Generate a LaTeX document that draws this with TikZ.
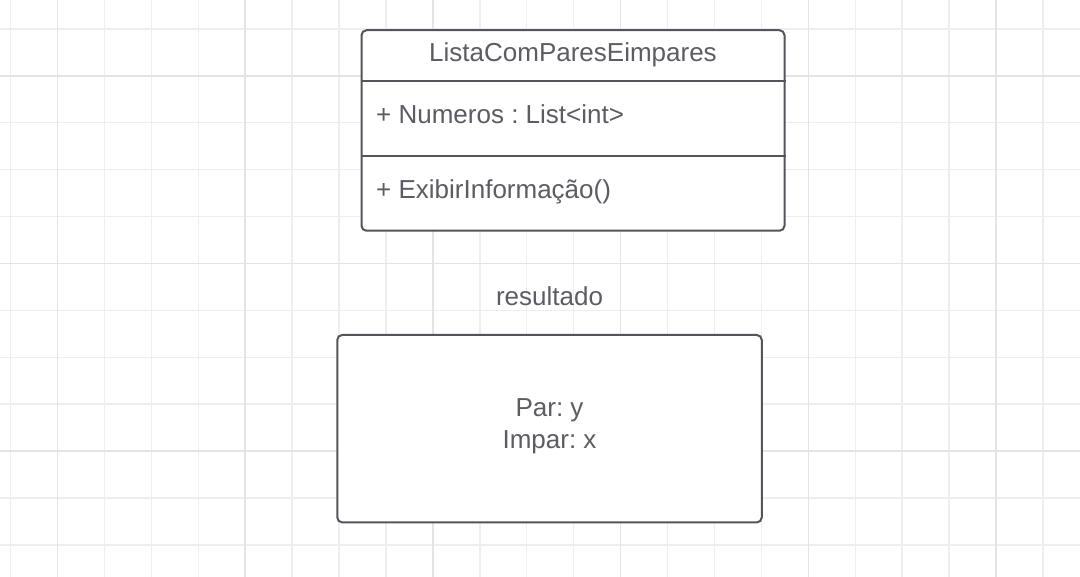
\documentclass[tikz,border=0pt]{standalone}
\usepackage{fontspec}
\setmainfont{Liberation Sans}
\usepackage{tikz}
\definecolor{gridminor}{RGB}{238,238,238}
\definecolor{gridmajor}{RGB}{228,228,228}
\definecolor{umlline}{RGB}{84,84,92}
\definecolor{umltext}{RGB}{92,92,100}
\frenchspacing

\begin{document}
\begin{tikzpicture}[x=1pt,y=-1pt,
	umlbox/.style={draw=umlline,line width=2pt,rounded corners=5pt,fill=white,inner sep=0pt},
	umllabel/.style={text=umltext,inner sep=0pt,font=\fontsize{26}{31}\selectfont},
	]
		\useasboundingbox[fill=white] (0,0) rectangle (1080,577);
		% grid
		\foreach \i in {0,...,22}
			\draw[gridminor,line width=1.4pt] (10.5+46.93*\i,0) -- (10.5+46.93*\i,577);
		\foreach \j in {0,...,11}
			\draw[gridminor,line width=1.4pt] (0,29+46.9*\j) -- (1080,29+46.9*\j);
		\foreach \i in {1,5,9,13,17,21}
			\draw[gridmajor,line width=1.5pt] (10.5+46.93*\i,0) -- (10.5+46.93*\i,577);
		\foreach \j in {1,5,9}
			\draw[gridmajor,line width=1.5pt] (0,29+46.9*\j) -- (1080,29+46.9*\j);

		\coordinate (cls_c) at (573,130.5);
		\coordinate (res_c) at (549.5,428.7);
		\node[umlbox,minimum width=423pt,minimum height=200.5pt] (cls) at (cls_c) {};
		\node[umlbox,minimum width=424.5pt,minimum height=187.5pt] (res) at (res_c) {};
		\draw[umlline,line width=2pt] (cls.west |- 0,81) -- (cls.east |- 0,81);
		\draw[umlline,line width=2pt] (cls.west |- 0,156) -- (cls.east |- 0,156);

		\node[umllabel,anchor=base] (cls_name) at (573,62) {ListaComParesEimpares};
		\node[umllabel,anchor=base west] (cls_attr) at (376,124) {+ Numeros : List<int>};
		\node[umllabel,anchor=base west] (cls_meth) at (376,199) {+ ExibirInformação()};
		\node[umllabel,anchor=base] (res_title) at (549.5,306) {resultado};
		\node[umllabel,anchor=base] (res_par) at (549.5,416.7) {Par: y};
		\node[umllabel,anchor=base] (res_impar) at (549.5,448.3) {Impar: x};
	\end{tikzpicture}
\end{document}
